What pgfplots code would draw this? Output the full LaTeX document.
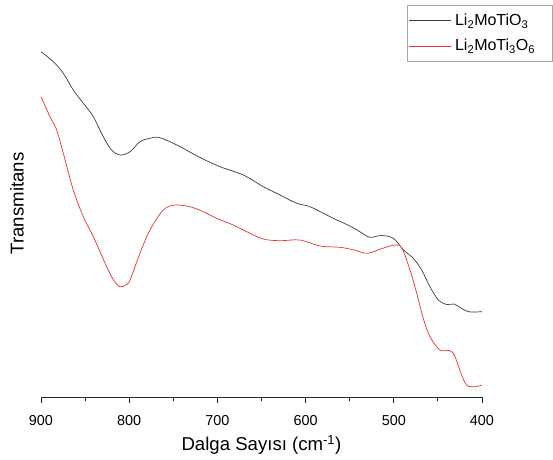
\documentclass[border=0pt]{standalone}
\usepackage{fontspec}
\setmainfont{Liberation Sans}
\usepackage{pgfplots}
\pgfplotsset{compat=1.18}

\definecolor{specblack}{RGB}{60,60,60}
\definecolor{specred}{RGB}{235,50,50}

\begin{document}
\begin{tikzpicture}
\begin{axis}[
  scale only axis, width=441pt, height=387pt,
  at={(0,0)}, anchor=south west,
  xmin=400, xmax=900, ymin=0, ymax=387,
  x dir=reverse,
  clip=false,
  axis x line*=bottom, axis y line*=left,
  y axis line style={draw=none},
  ytick=\empty,
  xtick={400,500,...,900},
  minor x tick num=1,
  xtick align=outside,
  major tick length=6pt, minor tick length=3.5pt,
  x axis line style={line width=0.9pt, black!85, -},
  every tick/.style={line width=0.9pt, black!85},
  /pgf/number format/assume math mode=true,
  /pgf/number format/1000 sep={},
  xticklabel style={font=\fontsize{14.4}{16}\selectfont, anchor=base, yshift=-22pt},
  xticklabel shift=0pt,
  xlabel={Dalga Sayısı (cm\textsuperscript{-1})},
  xlabel style={at={(axis description cs:0.5,0)}, anchor=base, yshift=-53.7pt,
                font=\fontsize{18.6}{20}\selectfont},
  ylabel={Transmitans},
  ylabel style={at={(axis description cs:-0.0544,0.5)}, anchor=center, rotate=0,
                font=\fontsize{18.6}{20}\selectfont},
  legend style={at={(axis description cs:0.8299,1.0129)}, anchor=north west,
                draw=black!35, line width=0.6pt, fill=white,
                font=\fontsize{16}{18}\selectfont,
                inner xsep=1pt, inner ysep=3pt, row sep=0pt,
                nodes={inner xsep=2pt, inner ysep=6pt}},
  legend cell align=left,
  legend image code/.code={\draw[#1, line width=0.8pt] (0pt,0pt) -- (42pt,0pt);},
]

% Li2MoTiO3
\addplot[specblack, line width=0.7pt, smooth, tension=0.55] coordinates {
  (900,345.3) (886,335.3) (874.7,323.7) (863.4,307) (852,293.7) (840.7,280.3)
  (829.4,260.3) (820,247) (810.4,242) (799,245.3) (787.8,255.3) (776.4,258.7)
  (766,259.5) (746,252) (719.7,239.5) (697,230.3) (670.6,222)
  (648,210.3) (632.8,203.7) (610,193.7) (595,190.3) (568.6,178.7)
  (549.7,171) (538,165) (527,159.7) (514,161.5) (500.5,158.7) (489,147)
  (478,138.7) (468.4,127) (459,110.3) (449.5,97) (440,92.5) (432,93)
  (425,89.7) (415.5,85.3) (400,85.3)
};
\addlegendentry{\makebox[96pt][l]{\hspace{2pt}Li\textsubscript{2}MoTiO\textsubscript{3}}}

% Li2MoTi3O6
\addplot[specred, line width=0.7pt, smooth, tension=0.55] coordinates {
  (900,300.3) (889.8,280.3) (882.2,267) (874.7,243.7) (863.4,207) (852,180.3)
  (840.7,160.3) (825.5,130.3) (817,116) (810.4,110.3) (804,112) (799,117)
  (787.8,143.7) (776.4,167) (761.3,187) (748,192) (730,190) (716,185.3)
  (700,178.3) (682,172) (666.8,165.3) (648,158) (629,156.3) (606.4,157)
  (583.7,151) (561,149.7) (545,147) (530,143.7) (515,148) (499,152)
  (491,149) (481.6,127) (474,103.7) (466.6,78.7) (459,60.3) (447.6,47)
  (436.3,46.3) (430.6,40.3) (417.4,12) (400,12)
};
\addlegendentry{\makebox[96pt][l]{\hspace{2pt}Li\textsubscript{2}MoTi\textsubscript{3}O\textsubscript{6}}}

\end{axis}
\path[use as bounding box] (-41pt,-62pt) rectangle (512pt,397pt);
\end{tikzpicture}
\end{document}
